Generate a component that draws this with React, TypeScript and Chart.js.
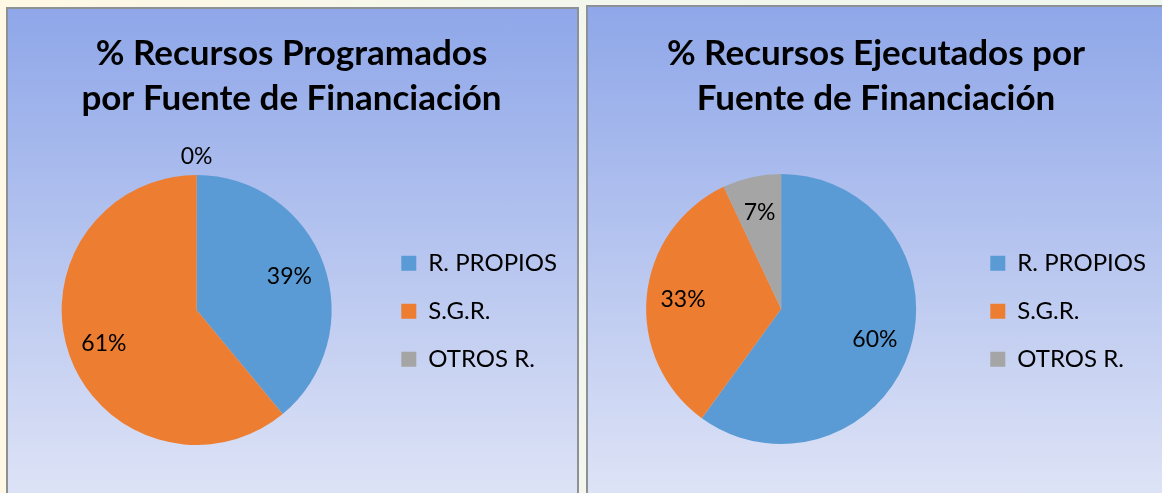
import React, { useEffect, useRef } from "react";
import { Chart, registerables } from "chart.js";

Chart.register(...registerables);

const categories = ["R. PROPIOS", "S.G.R.", "OTROS R."];
const programados = [39, 61, 0];
const ejecutados = [60, 33, 7];
const titleProgramados = ["% Recursos Programados", "por Fuente de Financiación"];
const titleEjecutados = ["% Recursos Ejecutados por", "Fuente de Financiación"];
const sliceColors = ["#5B9BD5", "#ED7D31", "#A5A5A5"];

const FONT = "Lato";

const pieLabels = {
  id: "pieLabels",
  afterDatasetsDraw(chart: any) {
    const ctx = chart.ctx;
    const meta = chart.getDatasetMeta(0);
    const data = chart.data.datasets[0].data as number[];
    ctx.save();
    ctx.font = `23px ${FONT}`;
    ctx.fillStyle = "#000";
    ctx.textAlign = "center";
    ctx.textBaseline = "middle";
    meta.data.forEach((arc: any, i: number) => {
      const p = arc.getProps(["x", "y", "startAngle", "endAngle", "outerRadius"], true);
      const mid = (p.startAngle + p.endAngle) / 2;
      const v = data[i];
      const r = v === 0 ? p.outerRadius + 18 : p.outerRadius * 0.73;
      ctx.fillText(v + "%", p.x + Math.cos(mid) * r, p.y + Math.sin(mid) * r);
    });
    ctx.restore();
  },
};

type PanelProps = {
  values: number[];
  title: string[];
  left: number;
  top: number;
  width: number;
  padLeft: number;
  padRight: number;
  titleTop: number;
  legendShift: number;
};

function PiePanel({ values, title, left, top, width, padLeft, padRight, titleTop, legendShift }: PanelProps) {
  const ref = useRef<HTMLCanvasElement>(null);
  useEffect(() => {
    if (!ref.current) return;
    const chart = new Chart(ref.current, {
      type: "pie",
      data: {
        labels: categories,
        datasets: [
          {
            data: values,
            backgroundColor: sliceColors,
            borderWidth: 0,
            hoverOffset: 0,
            offset: 0,
            radius: 135,
          } as any,
        ],
      },
      options: {
        animation: false,
        responsive: false,
        maintainAspectRatio: false,
        layout: { padding: { left: padLeft, right: padRight, top: 0, bottom: 38 } },
        plugins: {
          tooltip: { enabled: false },
          title: {
            display: true,
            text: title,
            color: "#000",
            font: { family: FONT, size: 35, weight: "bold", lineHeight: 45 / 35 },
            padding: { top: titleTop, bottom: 38 },
          },
          legend: {
            position: "right",
            title: {
              display: true,
              text: " ",
              padding: { top: 0, bottom: legendShift },
            },
            labels: {
              boxWidth: 15,
              boxHeight: 15,
              padding: 24,
              color: "#000",
              font: { family: FONT, size: 24 },
            },
          },
        },
      },
      plugins: [pieLabels],
    });
    return () => chart.destroy();
  }, []);
  return (
    <div
      style={{
        position: "absolute",
        left,
        top,
        width,
        height: 500,
        boxSizing: "border-box",
        border: "2px solid #8D9094",
        background: "linear-gradient(180deg, #8FA7E9 0%, #DFE4F6 100%)",
      }}
    >
      <canvas ref={ref} width={width - 4} height={490} style={{ display: "block" }} />
    </div>
  );
}

export default function App() {
  return (
    <div
      style={{
        position: "fixed",
        left: 0,
        top: 0,
        width: 1162,
        height: 493,
        overflow: "hidden",
        background: "linear-gradient(90deg, #FFF8E4 0%, #F3F6EC 45%, #EEF6EE 100%)",
      }}
    >
      <PiePanel
        values={programados}
        title={titleProgramados}
        left={6}
        top={7}
        width={573}
        padLeft={8}
        padRight={10}
        titleTop={22}
        legendShift={138}
      />
      <PiePanel
        values={ejecutados}
        title={titleEjecutados}
        left={586}
        top={5}
        width={582}
        padLeft={8}
        padRight={10}
        titleTop={24}
        legendShift={142}
      />
    </div>
  );
}
